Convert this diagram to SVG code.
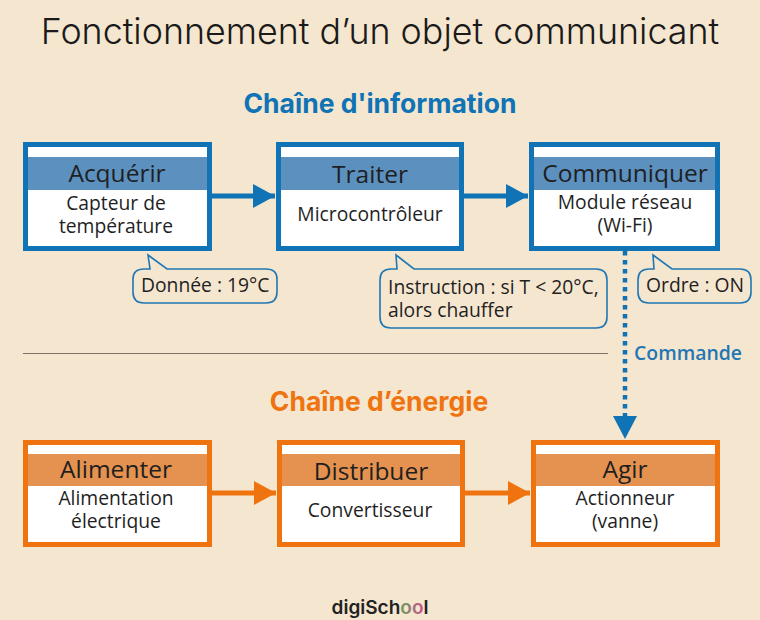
<svg xmlns="http://www.w3.org/2000/svg" width="760" height="620" viewBox="0 0 760 620">
<style>
text{font-family:"Open Sans","Noto Sans","Liberation Sans",sans-serif;fill:#1f1f1f;text-anchor:middle}
.title{font-family:Inter,"Liberation Sans",sans-serif;font-size:35.800px;font-weight:300;fill:#1a1a1a}
.chain{font-family:Inter,"Liberation Sans",sans-serif;font-size:26.500px;font-weight:700}
.head{font-size:24.500px;font-weight:500}
.body{font-size:19.300px}
.note{font-size:19.300px;text-anchor:start}
.box{fill:#fff;stroke-width:5}
.bl{stroke:#0f73b5}.or{stroke:#ef7410}
.bandb{fill:#5c90bf}.bando{fill:#e59250}
.call{fill:#f5e6cf;stroke:#1f77b4;stroke-width:1.6}
.cb{stroke:#0f73b5;stroke-width:5;fill:none}
.co{stroke:#ef7410;stroke-width:5;fill:none}
</style>
<defs>
<marker id="ab" markerUnits="userSpaceOnUse" markerWidth="24" markerHeight="26" refX="22" refY="12" orient="auto"><path d="M0,0L22,12L0,24Z" fill="#0f73b5"/></marker>
<marker id="ao" markerUnits="userSpaceOnUse" markerWidth="24" markerHeight="26" refX="22" refY="12" orient="auto"><path d="M0,0L22,12L0,24Z" fill="#ef7410"/></marker>
<linearGradient id="rb" x1="0" x2="1" y1="0" y2="0"><stop offset="0" stop-color="#e8a020"/><stop offset="0.3" stop-color="#2a9fd6"/><stop offset="0.65" stop-color="#4cb050"/><stop offset="1" stop-color="#e0409a"/></linearGradient>
</defs>
<rect width="760" height="620" fill="#f5e6cf"/>
<text class="title" x="380" y="44">Fonctionnement d’un objet communicant</text>
<text class="chain" x="380" y="113" style="fill:#0f73b5">Chaîne d'information</text>
<text class="chain" x="379" y="411" style="fill:#ef7410">Chaîne d’énergie</text>
<line x1="23" y1="353.500" x2="608" y2="353.500" stroke="#7d736a" stroke-width="1"/>
<g id="connectors">
<line class="cb" x1="212" y1="196" x2="275" y2="196" marker-end="url(#ab)"/>
<line class="cb" x1="464" y1="196" x2="528" y2="196" marker-end="url(#ab)"/>
<line class="co" x1="212" y1="493" x2="276" y2="493" marker-end="url(#ao)"/>
<line class="co" x1="465" y1="493" x2="530" y2="493" marker-end="url(#ao)"/>
<line x1="625" y1="251" x2="625" y2="420" stroke="#0f73b5" stroke-width="4.500" stroke-dasharray="4.500 4.500"/>
<path d="M613,416L637,416L625,439Z" fill="#0f73b5"/>
<text x="688" y="360" style="font-size:19.400px;font-weight:600;fill:#1f77b4">Commande</text>
</g>
<g id="acquerir"><rect class="box bl" x="25.500" y="144.500" width="184" height="104"/><rect class="bandb" x="28" y="157" width="179" height="33"/><text class="head" x="117" y="182">Acquérir</text><text class="body"><tspan x="116" y="210">Capteur de</tspan><tspan x="116" y="233">température</tspan></text></g>
<g id="traiter"><rect class="box bl" x="278.500" y="144.500" width="183" height="104"/><rect class="bandb" x="281" y="157" width="178" height="33"/><text class="head" x="370" y="183">Traiter</text><text class="body" x="370" y="221">Microcontrôleur</text></g>
<g id="communiquer"><rect class="box bl" x="531.500" y="144.500" width="186" height="104"/><rect class="bandb" x="534" y="157" width="181" height="33"/><text class="head" x="625" y="182">Communiquer</text><text class="body"><tspan x="625" y="209">Module réseau</tspan><tspan x="625" y="232">(Wi-Fi)</tspan></text></g>
<g id="alimenter"><rect class="box or" x="25.500" y="442.500" width="184" height="102"/><rect class="bando" x="28" y="454" width="179" height="32"/><text class="head" x="116" y="478">Alimenter</text><text class="body"><tspan x="116" y="505">Alimentation</tspan><tspan x="116" y="528">électrique</tspan></text></g>
<g id="distribuer"><rect class="box or" x="279.500" y="442.500" width="183" height="102"/><rect class="bando" x="282" y="454" width="178" height="32"/><text class="head" x="371" y="480">Distribuer</text><text class="body" x="370" y="517">Convertisseur</text></g>
<g id="agir"><rect class="box or" x="533.500" y="442.500" width="184" height="102"/><rect class="bando" x="536" y="454" width="179" height="32"/><text class="head" x="625" y="478">Agir</text><text class="body"><tspan x="625" y="505">Actionneur</tspan><tspan x="625" y="528">(vanne)</tspan></text></g>
<g id="note-donnee"><path class="call" d="M148,255L167,269L266,269Q277,269 277,279L277,292Q277,303 266,303L144,303Q133,303 133,292L133,279Q133,269 144,269L150,269Z"/><text class="note" x="141" y="292">Donnée : 19°C</text></g>
<g id="note-instruction"><path class="call" d="M396,255L414,269L596,269Q607,269 607,280L607,317Q607,328 596,328L391,328Q380,328 380,317L380,280Q380,269 391,269L397,269Z"/><text class="note"><tspan x="388" y="294">Instruction : si T &lt; 20°C,</tspan><tspan x="388" y="317">alors chauffer</tspan></text></g>
<g id="note-ordre"><path class="call" d="M653,255L672,269L740,269Q751,269 751,280L751,292Q751,303 740,303L649,303Q638,303 638,292L638,280Q638,269 649,269L654,269Z"/><text class="note" x="646" y="292">Ordre : ON</text></g>
<g id="logo"><text x="380" y="614" style="font-family:Inter,'Liberation Sans',sans-serif;font-size:19px;font-weight:600;fill:#222">digiSch<tspan style="fill:url(#rb)">oo</tspan>l</text></g>
</svg>
